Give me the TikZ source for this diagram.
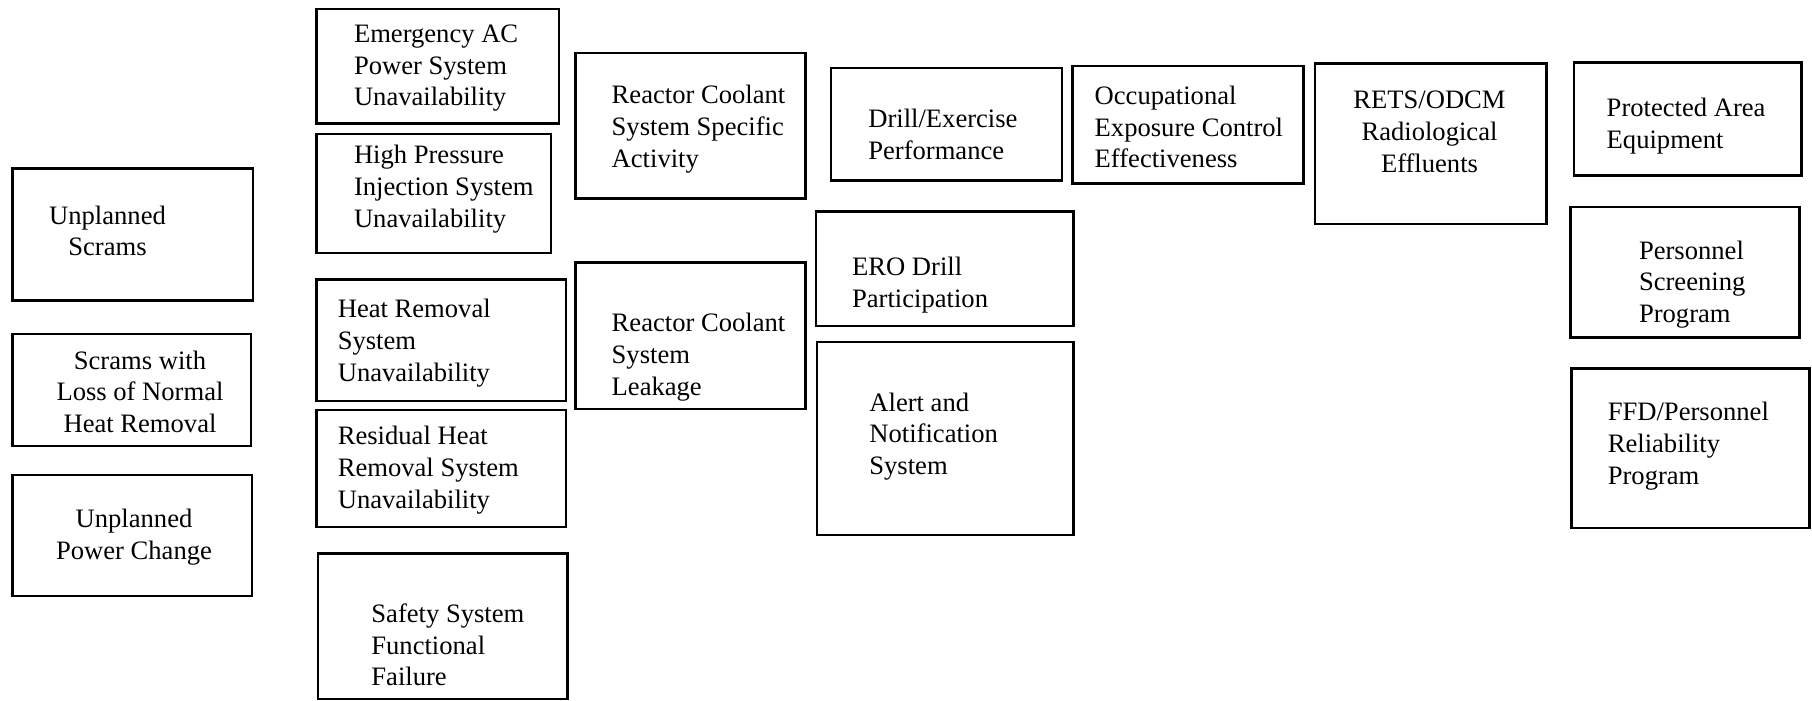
\documentclass[tikz,border=0pt]{standalone}
\usepackage{fontspec}
\setmainfont{Liberation Serif}
\begin{document}
\begin{tikzpicture}[x=0.5pt,y=-0.5pt,
  box/.style={draw, line width=1.3pt},
  ltxt/.style={align=left, anchor=west, inner sep=0pt, font=\fontsize{13.3}{15.9}\selectfont},
  ctxt/.style={align=center, anchor=center, inner sep=0pt, font=\fontsize{13.3}{15.9}\selectfont}]
\useasboundingbox (0,0) rectangle (1812,701);

% first column
\draw[box] (12.7,168.7) rectangle (253,300.5);
\draw[box] (12.7,334) rectangle (250.8,446);
\draw[box] (12.7,475) rectangle (252,596);
\node[ctxt] (scrams) at (107.5,231) {Unplanned\\Scrams};
\node[ctxt] (heatloss) at (140,391.7) {Scrams with\\Loss of Normal\\Heat Removal};
\node[ctxt] (powerchange) at (134,537) {Unplanned\\Power Change};

% second column
\draw[box] (316.6,9.2) rectangle (559,123.6);
\draw[box] (316.6,134) rectangle (551,253);
\draw[box] (316.6,279.6) rectangle (566,401);
\draw[box] (316.6,410) rectangle (566,527);
\draw[box] (317.8,553.5) rectangle (567.4,699);
\node[ltxt] (acpower) at (353.6,68.2) {Emergency AC\\Power System\\Unavailability};
\node[ltxt] (hpinject) at (353.6,189) {High Pressure\\Injection System\\Unavailability};
\node[ltxt] (heatrem) at (337.4,343) {Heat Removal\\System\\Unavailability};
\node[ltxt] (residual) at (337.4,470) {Residual Heat\\Removal System\\Unavailability};
\node[ltxt] (safety) at (371,644.8) {Safety System\\Functional\\Failure};

% third column
\draw[box] (575.5,53) rectangle (805.4,198.8);
\draw[box] (575.5,262.3) rectangle (805.4,409);
\node[ltxt] (activity) at (611.3,129.4) {Reactor Coolant\\System Specific\\Activity};
\node[ltxt] (leakage) at (611.3,357) {Reactor Coolant\\System\\Leakage};

% fourth column
\draw[box] (831,68.2) rectangle (1062,180.3);
\draw[box] (815.8,211.5) rectangle (1073.5,325.9);
\draw[box] (817,342) rectangle (1073.5,535);
\node[ltxt] (drill) at (867.9,134.5) {Drill/Exercise\\Performance};
\node[ltxt] (ero) at (851.7,285.5) {ERO Drill\\Participation};
\node[ltxt] (alert) at (869,436.5) {Alert and\\Notification\\System};

% fifth and sixth column
\draw[box] (1072.4,65.9) rectangle (1303.5,183.7);
\draw[box] (1315,63.6) rectangle (1546.2,224.2);
\node[ltxt] (exposure) at (1094.3,127.1) {Occupational\\Exposure Control\\Effectiveness};
\node[ctxt] (effluents) at (1429.5,131.7) {RETS/ODCM\\Radiological\\Effluents};

% last column
\draw[box] (1574,62.4) rectangle (1801.6,175.6);
\draw[box] (1570.4,206.9) rectangle (1799.3,337.4);
\draw[box] (1571.6,368.6) rectangle (1809.7,528);
\node[ltxt] (protected) at (1606.3,126.5) {Protected Area\\Equipment};
\node[ltxt] (screening) at (1638.6,284.5) {Personnel\\Screening\\Program};
\node[ltxt] (reliability) at (1607.4,446) {FFD/Personnel\\Reliability\\Program};
\end{tikzpicture}
\end{document}
